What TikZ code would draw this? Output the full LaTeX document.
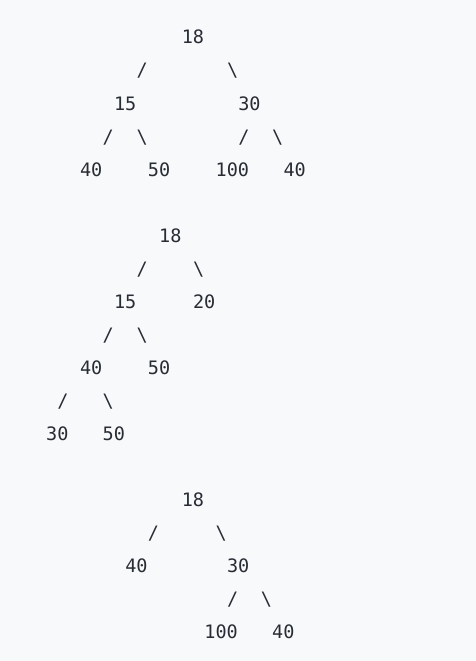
\documentclass[tikz,border=0pt]{standalone}
\usepackage{fontspec}
\newfontfamily\treefont{DejaVu Sans Mono}
\definecolor{codebg}{RGB}{248,249,250}
\definecolor{codefg}{RGB}{40,44,52}
\def\bs{\textbackslash}

\begin{document}
\begin{tikzpicture}[x=11.3pt,y=-33pt]
\tikzstyle{tok}=[anchor=base west, inner sep=0pt, text=codefg, font=\fontsize{18.5}{22}\treefont]

% page background
\fill[codebg] (-46pt,44pt) rectangle (430pt,-617pt);

% first tree
\node[tok] (a18) at (12,0) {18};
\node[tok] (a18l) at (8,1) {/};
\node[tok] (a18r) at (16,1) {\bs};
\node[tok] (a15) at (6,2) {15};
\node[tok] (a30) at (17,2) {30};
\node[tok] (a15l) at (5,3) {/};
\node[tok] (a15r) at (8,3) {\bs};
\node[tok] (a30l) at (17,3) {/};
\node[tok] (a30r) at (20,3) {\bs};
\node[tok] (a40) at (3,4) {40};
\node[tok] (a50) at (9,4) {50};
\node[tok] (a100) at (15,4) {100};
\node[tok] (a40b) at (21,4) {40};

% second tree
\node[tok] (b18) at (10,6) {18};
\node[tok] (b18l) at (8,7) {/};
\node[tok] (b18r) at (13,7) {\bs};
\node[tok] (b15) at (6,8) {15};
\node[tok] (b20) at (13,8) {20};
\node[tok] (b15l) at (5,9) {/};
\node[tok] (b15r) at (8,9) {\bs};
\node[tok] (b40) at (3,10) {40};
\node[tok] (b50) at (9,10) {50};
\node[tok] (b40l) at (1,11) {/};
\node[tok] (b40r) at (5,11) {\bs};
\node[tok] (b30) at (0,12) {30};
\node[tok] (b50b) at (5,12) {50};

% third tree
\node[tok] (c18) at (12,14) {18};
\node[tok] (c18l) at (9,15) {/};
\node[tok] (c18r) at (15,15) {\bs};
\node[tok] (c40) at (7,16) {40};
\node[tok] (c30) at (16,16) {30};
\node[tok] (c30l) at (16,17) {/};
\node[tok] (c30r) at (19,17) {\bs};
\node[tok] (c100) at (14,18) {100};
\node[tok] (c40b) at (20,18) {40};

\end{tikzpicture}
\end{document}
